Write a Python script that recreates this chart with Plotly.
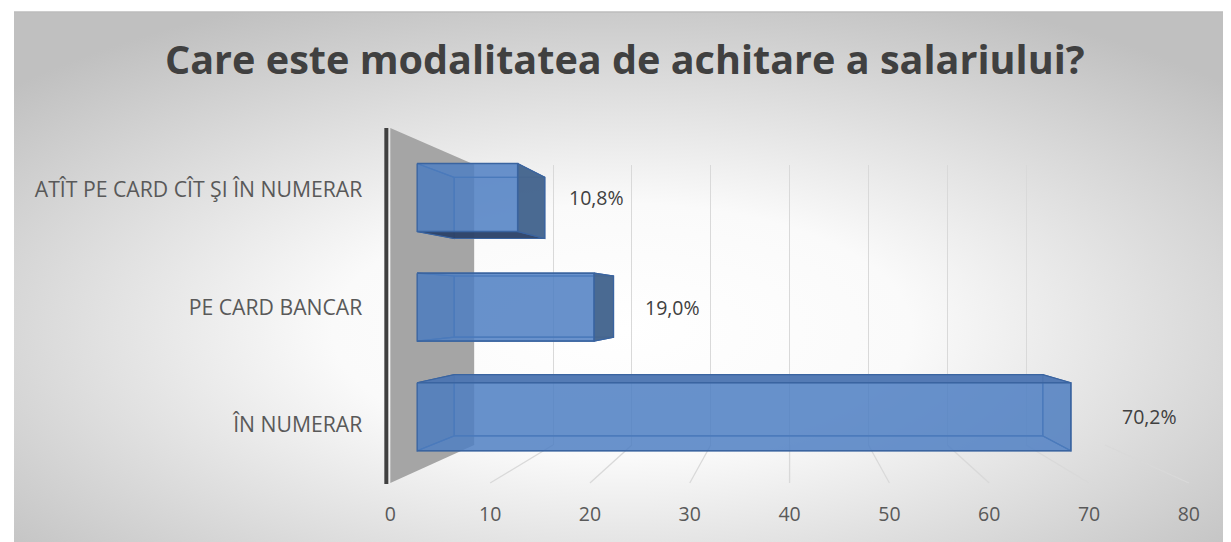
import base64
import plotly.graph_objects as go

# ---------------- data ----------------
title_text = "Care este modalitatea de achitare a salariului?"
categories = ["ÎN NUMERAR", "PE CARD BANCAR", "ATÎT PE CARD CÎT ŞI ÎN NUMERAR"]
values = [70.2, 19.0, 10.8]
value_labels = ["70,2%", "19,0%", "10,8%"]
x_ticks = [0, 10, 20, 30, 40, 50, 60, 70, 80]

# ---------------- page / figure geometry ----------------
SX_SCALE, SX_OFF = 0.988, 13    # observed horizontal page -> photo mapping
SY_OFF = 8                      # body margin (vertical)
FW, FH = 1233, 542 - SY_OFF


def pxx(X):   # photo x (px) -> paper
    return ((X - SX_OFF) / SX_SCALE) / FW


def pxy(Y):   # photo y (px) -> paper
    return 1 - (Y - SY_OFF) / FH


# pseudo 3D perspective (photo px)
VPX, VPY = 790, 302            # vanishing point
FX0, FX1 = 390, 1190           # front plane: px of x-range ends
FY_TOP, FY_BOT = 128, 483      # front plane: wall top / floor
XR = [0, 80]
CAT_STEP, CAT0_PY = 117.5, 425
YR = [(CAT0_PY - FY_BOT) / CAT_STEP, (CAT0_PY - FY_TOP) / CAT_STEP]
F_BAR, F_BACK, F_WALL = 0.933, 0.84, 0.79
BAR_W = 0.62
cat_pos = list(range(len(categories)))


def proj(px, py, f):
    return VPX + (px - VPX) * f, VPY + (py - VPY) * f


def fx(v):
    return FX0 + (v - XR[0]) / (XR[1] - XR[0]) * (FX1 - FX0)


def fy(c):
    return FY_BOT - (c - YR[0]) / (YR[1] - YR[0]) * (FY_BOT - FY_TOP)


def plane_domains(f):
    x0, _ = proj(FX0, VPY, f)
    x1, _ = proj(FX1, VPY, f)
    _, yt = proj(VPX, FY_TOP, f)
    _, yb = proj(VPX, FY_BOT, f)
    return [pxx(x0), pxx(x1)], [pxy(yb), pxy(yt)]


# ---------------- background gradient ----------------
svg = """<svg xmlns='http://www.w3.org/2000/svg' width='1221' height='530' viewBox='0 0 1221 530' preserveAspectRatio='none'>
<defs><radialGradient id='g' cx='0.5' cy='0.6' r='0.68' gradientUnits='objectBoundingBox'>
<stop offset='0' stop-color='#ffffff'/><stop offset='0.35' stop-color='#fafafa'/>
<stop offset='1' stop-color='#c0c0c0'/></radialGradient></defs>
<rect x='0' y='0' width='1221' height='530' fill='url(#g)'/></svg>"""
bg_src = "data:image/svg+xml;base64," + base64.b64encode(svg.encode()).decode()

fig = go.Figure()

hidden = dict(showgrid=False, zeroline=False, showline=False, showticklabels=False,
              ticks="", fixedrange=True)

dx1, dy1 = plane_domains(F_WALL)   # back wall with gridlines
dx3, dy3 = plane_domains(F_BAR)    # bar front faces
dx4, dy4 = plane_domains(1.0)      # front plane with labels

fig.add_trace(go.Scatter(x=[None], y=[None], xaxis="x", yaxis="y",
                         hoverinfo="skip", showlegend=False))


def px_trace(xs, ys, **kw):
    fig.add_trace(go.Scatter(x=xs, y=ys, xaxis="x2", yaxis="y2", mode="lines",
                             hoverinfo="skip", showlegend=False, **kw))


# left wall
wx0f, wyt_f = proj(fx(0), FY_TOP, 1.0)
wx0b, wyt_b = proj(fx(0), FY_TOP, F_WALL)
_, wyb_f = proj(fx(0), FY_BOT, 1.0)
_, wyb_b = proj(fx(0), FY_BOT, F_WALL)
px_trace([wx0f, wx0b, wx0b, wx0f, wx0f], [wyt_f, wyt_b, wyb_b, wyb_f, wyt_f],
         fill="toself", fillcolor="#a5a5a5", line=dict(width=0))

# floor lines
fl_x, fl_y = [], []
for t in x_ticks[1:]:
    bx, by = proj(fx(t), FY_BOT, F_WALL)
    ffx, ffy = proj(fx(t), FY_BOT, 1.0)
    fl_x += [bx, ffx, None]
    fl_y += [by, ffy, None]
px_trace(fl_x, fl_y, line=dict(color="#d9d9d9", width=1.3))

# 3D faces of the bars
edge = "#3a64a0"
hidden_faces, visible_faces = [], []
for c, v in zip(cat_pos, values):
    h = BAR_W / 2
    corners = dict(tl=(fx(0), fy(c + h)), tr=(fx(v), fy(c + h)),
                   br=(fx(v), fy(c - h)), bl=(fx(0), fy(c - h)))
    F = {k: proj(*p, F_BAR) for k, p in corners.items()}
    B = {k: proj(*p, F_BACK) for k, p in corners.items()}
    back = [B["tl"], B["tr"], B["br"], B["bl"]]
    top = [F["tl"], F["tr"], B["tr"], B["tl"]]
    bot = [F["bl"], F["br"], B["br"], B["bl"]]
    right = [F["tr"], F["br"], B["br"], B["tr"]]
    left = [F["tl"], F["bl"], B["bl"], B["tl"]]
    hidden_faces.append((back, "rgba(68,114,196,0.35)"))
    hidden_faces.append((left, "rgba(47,85,151,0.35)"))
    if F["tl"][1] > VPY:
        visible_faces.append((top, "rgba(78,118,178,0.95)"))
    else:
        hidden_faces.append((top, "rgba(68,114,196,0.3)"))
    if F["bl"][1] < VPY:
        visible_faces.append((bot, "rgba(44,66,104,0.95)"))
    else:
        hidden_faces.append((bot, "rgba(68,114,196,0.3)"))
    if F["tr"][0] < VPX:
        visible_faces.append((right, "rgba(70,102,142,0.97)"))
    else:
        hidden_faces.append((right, "rgba(47,85,151,0.3)"))

for poly, col in hidden_faces + visible_faces:
    xs = [p[0] for p in poly] + [poly[0][0]]
    ys = [p[1] for p in poly] + [poly[0][1]]
    px_trace(xs, ys, fill="toself", fillcolor=col, line=dict(color=edge, width=1.2))

# dark vertical axis line at the front of the wall
px_trace([wx0f - 4, wx0f - 4], [wyt_f, wyb_f + 1], line=dict(color="#404040", width=4))

# ---- bars (front faces) ----
fig.add_trace(go.Bar(
    x=values, y=cat_pos, orientation="h", width=BAR_W, xaxis="x3", yaxis="y3",
    marker=dict(color="rgba(80,128,195,0.78)", line=dict(color=edge, width=1.5)),
    hoverinfo="skip", showlegend=False))

# ---- front plane: axis labels ----
fig.add_trace(go.Scatter(x=[None], y=[None], xaxis="x4", yaxis="y4",
                         hoverinfo="skip", showlegend=False))

tick_font = dict(family="Open Sans", size=19.5, color="#595959")
cat_font = dict(family="Open Sans", size=21.2, color="#595959")

fig.update_layout(
    width=FW, height=FH,
    margin=dict(l=0, r=0, t=0, b=0),
    paper_bgcolor="white", plot_bgcolor="rgba(0,0,0,0)",
    showlegend=False,
    xaxis=dict(domain=dx1, range=XR, anchor="y", showgrid=True, tickvals=x_ticks,
               gridcolor="#d9d9d9", gridwidth=1.3, showticklabels=False, ticks="",
               zeroline=False, showline=False, fixedrange=True),
    yaxis=dict(domain=dy1, range=YR, anchor="x", **hidden),
    xaxis2=dict(domain=[0, 1], range=[SX_OFF, SX_OFF + SX_SCALE * FW], anchor="y2",
                **hidden),
    yaxis2=dict(domain=[0, 1], range=[SY_OFF + FH, SY_OFF], anchor="x2", **hidden),
    xaxis3=dict(domain=dx3, range=XR, anchor="y3", **hidden),
    yaxis3=dict(domain=dy3, range=YR, anchor="x3", **hidden),
    xaxis4=dict(domain=dx4, range=XR, anchor="y4", tickvals=x_ticks,
                showgrid=False, zeroline=False, showline=False, ticks="",
                showticklabels=True, tickfont=tick_font, ticklabelstandoff=17,
                fixedrange=True),
    yaxis4=dict(domain=dy4, range=YR, anchor="x4", tickvals=cat_pos, ticktext=categories,
                showgrid=False, zeroline=False, showline=False, ticks="",
                showticklabels=True, tickfont=cat_font, ticklabelstandoff=27,
                fixedrange=True),
    images=[dict(source=bg_src, xref="paper", yref="paper", x=0, y=pxy(12),
                 sizex=1, sizey=pxy(12), xanchor="left",
                 yanchor="top", sizing="stretch", layer="below")],
    shapes=[dict(type="line", xref="paper", yref="paper", x0=0, x1=1,
                 y0=pxy(12), y1=pxy(12), line=dict(color="#bdbdbd", width=1.5),
                 layer="below")],
)

annotations = [dict(text=f"<b>{title_text}</b>", xref="paper", yref="paper",
                    x=pxx(625), y=pxy(59), xanchor="center", yanchor="middle",
                    showarrow=False,
                    font=dict(family="Open Sans", size=39.6, color="#404040"))]
for c, v, lab in zip(cat_pos, values, value_labels):
    annotations.append(dict(text=lab, xref="x3", yref="y3", x=v, y=c, xanchor="left",
                            yanchor="middle", xshift=49, showarrow=False,
                            font=dict(family="Open Sans", size=19.5, color="#404040")))
fig.update_layout(annotations=annotations)

fig.write_html("out.html")
